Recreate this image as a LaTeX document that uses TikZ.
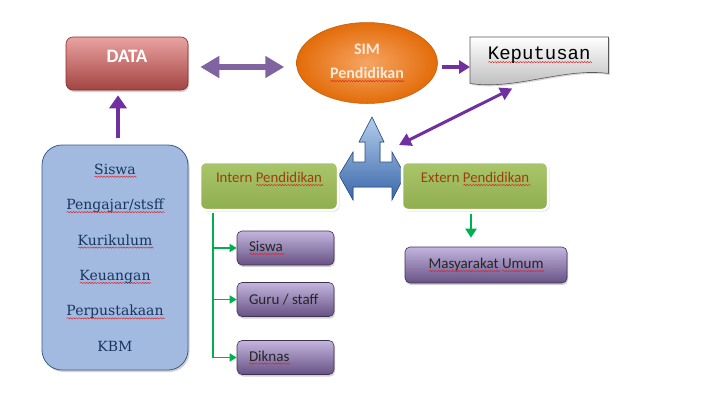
\documentclass[tikz,border=0pt]{standalone}
\usepackage{fontspec}
\setmainfont{Carlito}
\newfontfamily\serifface{DejaVu Serif}
\newfontfamily\typeface{Liberation Mono}
\usepackage{tikz}
\usetikzlibrary{positioning,arrows.meta,shapes.geometric,shadows,backgrounds}
\usepackage{xcolor}
\definecolor{datared}{HTML}{C0504D}
\definecolor{datalight}{HTML}{E9A3A1}
\definecolor{datadark}{HTML}{8C2B29}
\definecolor{simorange}{HTML}{E36C09}
\definecolor{simlight}{HTML}{F6A564}
\definecolor{simtext}{HTML}{FDE9D9}
\definecolor{kepgray}{HTML}{B8B8B8}
\definecolor{arrowpurple}{HTML}{7030A0}
\definecolor{arrowsoft}{HTML}{8064A2}
\definecolor{boxblue}{HTML}{4F7BBE}
\definecolor{boxbluelight}{HTML}{A3BAE0}
\definecolor{blueborder}{HTML}{385D8A}
\definecolor{hubtop}{HTML}{B4CDEB}
\definecolor{hubbottom}{HTML}{3A68AA}
\definecolor{navy}{HTML}{17365D}
\definecolor{olivetop}{HTML}{AAC66C}
\definecolor{olivebottom}{HTML}{8FAE4E}
\definecolor{rust}{HTML}{9C3F0C}
\definecolor{lilac}{HTML}{C3B5DE}
\definecolor{violet}{HTML}{8A6DB0}
\definecolor{violetdark}{HTML}{3F3151}
\definecolor{treegreen}{HTML}{00B050}
\definecolor{spellred}{HTML}{E02020}

% red spell-check wave under a word
\newdimen\spellwd
\newdimen\spellx
\newcount\spellk
\newcommand\wavebox{%
  \begin{pgfpicture}%
    \pgfsetbaseline{0pt}%
    \pgfsetcornersarced{\pgfpointorigin}%
    \pgfsetlinewidth{0.45pt}\pgfsetstrokecolor{spellred}%
    \pgfpathmoveto{\pgfpoint{0pt}{-2.6pt}}%
    \spellx=0pt \spellk=0
    \loop
      \advance\spellx by 1.4pt \advance\spellk by 1
      \ifodd\spellk\pgfpathlineto{\pgfpoint{\spellx}{-1.9pt}}\else\pgfpathlineto{\pgfpoint{\spellx}{-3.2pt}}\fi
    \ifdim\spellx<\spellwd\repeat
    \pgfusepath{stroke}%
  \end{pgfpicture}}
\newcommand\spellmark[1]{\setbox0=\hbox{#1}\spellwd=\wd0\relax\leavevmode\rlap{\wavebox}\box0\relax}

\tikzset{
  databox/.style={rounded corners=7pt,draw=datadark,line width=0.6pt,
    top color=datalight,middle color=datared,bottom color=datared!85!black,
    text=white,font=\fontsize{19}{22}\bfseries\selectfont,
    minimum width=122pt,minimum height=53pt,text height=12pt,text depth=14pt,
    drop shadow={opacity=0.35,shadow xshift=1pt,shadow yshift=-2pt}},
  simbox/.style={ellipse,minimum width=141pt,minimum height=81pt,inner sep=0pt,
    inner color=simlight,outer color=simorange,draw=simorange!85!black,line width=0.5pt,
    align=center,text=simtext,font=\fontsize{16}{24}\bfseries\selectfont},
  kepbox/.style={minimum width=138pt,minimum height=36pt,inner sep=0pt,
    font=\typeface\fontsize{19}{20}\selectfont},
  kepfill/.style={top color=white,bottom color=kepgray,draw=black!65,line width=0.6pt,
    drop shadow={opacity=0.3,shadow xshift=1.5pt,shadow yshift=-1.5pt}},
  listbox/.style={rounded corners=20pt,draw=blueborder,line width=0.8pt,
    top color=boxbluelight,middle color=boxblue,bottom color=boxbluelight,
    minimum width=146pt,minimum height=225pt,align=center,text=navy,
    font=\serifface\fontsize{14}{35.4}\selectfont,
    drop shadow={opacity=0.35,shadow xshift=1.5pt,shadow yshift=-2pt}},
  greenbox/.style={rounded corners=6pt,top color=olivetop,bottom color=olivebottom,
    draw=white,line width=2.5pt,minimum width=138pt,minimum height=48pt,
    text=rust,font=\fontsize{14.8}{16}\selectfont,text height=10pt,text depth=17pt,
    drop shadow={opacity=0.3,shadow xshift=1.5pt,shadow yshift=-1.5pt}},
  purplebox/.style={rounded corners=5pt,draw=violetdark,line width=0.6pt,
    top color=lilac,middle color=violet,bottom color=violet!75!black,
    text width=73pt,inner xsep=12pt,align=flush left,minimum height=34pt,
    text=black!85,font=\fontsize{15}{17}\selectfont,
    drop shadow={opacity=0.35,shadow xshift=1pt,shadow yshift=-2pt}},
  purplearrow/.style={draw=arrowpurple,line width=4.5pt},
  hubarrow/.style={top color=hubtop,bottom color=hubbottom,draw=hubbottom!80!black,line width=0.6pt},
  treeline/.style={draw=treegreen,line width=2.5pt},
  treebranch/.style={draw=treegreen,line width=1.5pt,-{Triangle[width=8pt,length=7pt]}}
}

\begin{document}
\begin{tikzpicture}[x=1pt,y=-1pt]
\useasboundingbox (0,0) rectangle (720,405);

% top row
\node[databox] (data) at (127,63.5) {DATA};
\node[simbox] (sim) at (367,63) {SIM\\\spellmark{Pendidikan}};
\node[kepbox,anchor=north west] (kep) at (470,37) {\spellmark{Keputusan}};
\begin{scope}[on background layer]
  \fill[white] (0,0) rectangle (720,405);
  \draw[kepfill] (kep.north west) -- (kep.north east) -- (kep.south east)
    .. controls +(-45,-6) and +(45,7) .. ([yshift=-10pt]kep.south west) -- cycle;
\end{scope}

% left column
\node[listbox] (blk) at (115,257.5) {\spellmark{Siswa}\\\spellmark{Pengajar/stsff}\\\spellmark{Kurikulum}\\\spellmark{Keuangan}\\\spellmark{Perpustakaan}\\KBM};

% three way arrow between intern and extern
\filldraw[hubarrow] (372,117) -- (384,142) -- (380,142) -- (380,162) -- (392,162) -- (392,152)
  -- (405,175) -- (392,200) -- (392,187) -- (353,187) -- (353,200) -- (339,175)
  -- (353,152) -- (353,162) -- (365,162) -- (365,142) -- (359,142) -- cycle;
\coordinate (hub) at (399,145);

\node[greenbox] (intern) at (269,186) {Intern \spellmark{Pendidikan}};
\node[greenbox,minimum width=146pt] (extern) at (475,186) {Extern \spellmark{Pendidikan}};

\node[purplebox] (siswa) at (285.5,248) {\spellmark{Siswa}};
\node[purplebox] (guru) at (285.5,299.5) {Guru / staff};
\node[purplebox] (diknas) at (285.5,357.5) {\spellmark{Diknas}};
\node[purplebox,text width=138pt,align=flush center,minimum height=36pt] (umum) at (486,265) {\spellmark{Masyarakat} \spellmark{Umum}};

% purple connectors
\draw[purplearrow,draw=arrowsoft,line width=6pt,{Triangle[width=21pt,length=19pt]}-{Triangle[width=21pt,length=19pt]},shorten <=12pt,shorten >=12pt]
  ([yshift=-3.5pt]data.east) -- ([yshift=-3.5pt]data.east -| sim.west);
\draw[purplearrow,-{Triangle[width=17pt,length=13pt]},shorten <=7pt,shorten >=5pt]
  ([xshift=3pt]blk.north) -- ([xshift=3pt]blk.north |- data.south);
\draw[purplearrow,line width=3.5pt,-{Triangle[width=13pt,length=11pt]},shorten <=4pt]
  ([yshift=-4pt]sim.east) -- ([yshift=-4pt]sim.east -| kep.west);
\draw[purplearrow,line width=3pt,{Triangle[width=13pt,length=12pt]}-{Triangle[width=13pt,length=12pt]}]
  (hub) -- ([xshift=-27pt,yshift=-15pt]kep.south);

% green tree
\coordinate (trunk) at ([xshift=14pt,yshift=-2pt]intern.south west);
\draw[treeline] (trunk) -- (trunk |- diknas.west);
\foreach \leaf in {siswa,guru,diknas}
  \draw[treebranch] (trunk |- \leaf.west) -- (\leaf.west);
\draw[treebranch,line width=2.5pt,-{Triangle[width=11pt,length=9pt]},shorten <=3pt,shorten >=9pt]
  ([xshift=-4pt]extern.south) -- ([xshift=-4pt]extern.south |- umum.north);
\end{tikzpicture}
\end{document}
